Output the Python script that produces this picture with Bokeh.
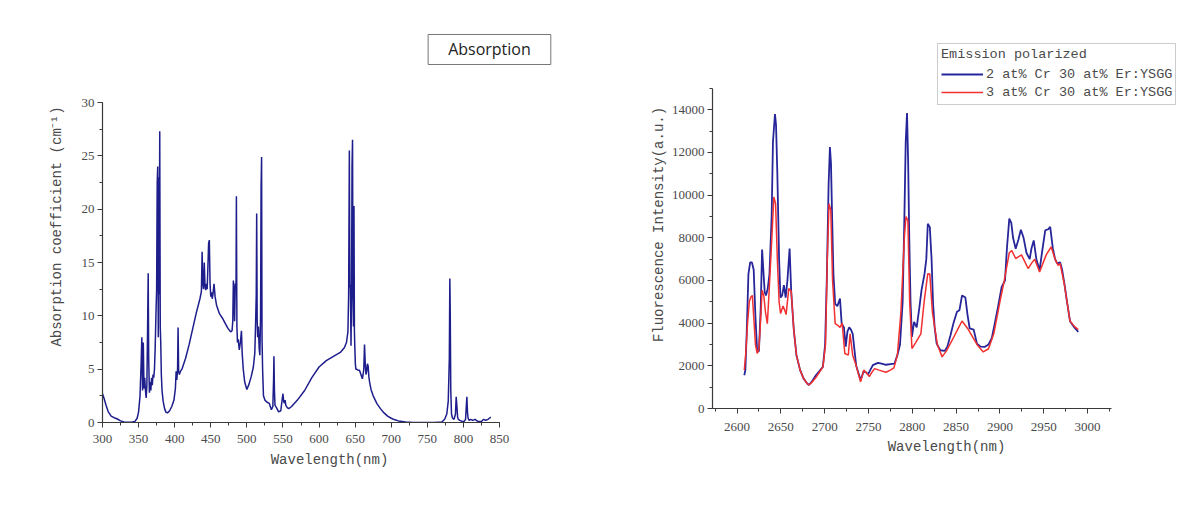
from bokeh.plotting import figure
from bokeh.layouts import row
from bokeh.models import Range1d, Label, Legend, LegendItem, SingleIntervalTicker
from bokeh.embed import file_html
from bokeh.resources import INLINE

# ---------------- data: absorption spectrum ----------------
abs_wavelength = [
    300, 302, 305, 308, 312, 316, 320, 325, 330, 335,
    340, 345, 348, 350, 352, 353.5, 354.5, 355.5, 356.5, 357.5,
    358.5, 359.5, 360.5, 361.5, 362.5, 363.3, 364, 365, 366, 367,
    368, 369, 370, 371, 372, 373, 374, 375, 375.8, 376.5,
    377.3, 378, 378.6, 379.3, 380, 380.7, 381.5, 382.5, 384, 386,
    388, 390, 393, 396, 399, 401, 402, 403, 404, 404.7,
    405.5, 406.5, 408, 410, 415, 420, 425, 430, 435, 437,
    438, 439, 440, 441, 442, 443, 444, 445, 446, 447,
    448, 449, 450, 451, 452, 453, 454.5, 456, 458, 462,
    466, 470, 474, 477.5, 479.5, 480.5, 481.3, 482, 483, 484,
    485, 485.5, 486.2, 487, 488, 489.5, 491, 492.5, 493.5, 495,
    497, 500, 503, 506, 509, 511, 512, 513, 513.6, 514.3,
    515, 516, 517, 518, 519, 519.7, 520.4, 521, 521.8, 523,
    525, 528, 531, 534, 536, 537, 537.5, 538.2, 539, 541,
    544, 547, 549, 550, 551, 552, 553, 554, 556, 558,
    562, 570, 580, 590, 600, 610, 620, 630, 635, 638,
    640, 641, 642, 642.7, 643.5, 644.3, 645, 645.7, 646.4, 647,
    647.7, 648.4, 649, 649.6, 650.3, 651, 652, 654, 656, 658,
    660, 661, 662, 663, 664, 665, 666, 667, 668, 669,
    670, 672, 675, 680, 685, 690, 695, 700, 705, 710,
    720, 730, 740, 750, 760, 770, 774, 777, 779, 780.5,
    781.2, 781.8, 782.5, 783.5, 785, 787, 789, 790, 791, 792,
    793, 795, 798, 801, 803, 804, 804.8, 805.6, 806.5, 808,
    810, 813, 816, 820, 825, 828, 831, 834, 836, 838,
]
abs_coefficient = [
    2.7, 2.3, 1.6, 1.0, 0.6, 0.45, 0.35, 0.15, 0.05, 0.03,
    0.03, 0.1, 0.4, 1.0, 2.5, 5.5, 8.0, 3.0, 7.5, 3.2,
    4.2, 3.0, 2.3, 3.5, 9.0, 14.0, 6.0, 2.8, 3.8, 3.0,
    4.2, 3.5, 4.5, 4.2, 5.0, 7.0, 10.0, 12.5, 22.5, 24.0,
    8.0, 23.0, 12.0, 27.3, 9.0, 7.5, 4.5, 3.0, 2.0, 1.3,
    0.95, 0.9, 1.1, 1.5, 2.1, 3.2, 4.8, 4.0, 5.0, 8.9,
    4.8, 4.5, 4.8, 5.0, 6.0, 7.3, 8.8, 10.3, 11.6, 12.3,
    16.0, 13.0, 12.5, 15.0, 12.8, 12.4, 13.0, 12.5, 14.5, 16.8,
    17.1, 13.0, 11.8, 12.2, 11.6, 12.0, 13.0, 11.8, 11.0, 10.2,
    9.8, 9.3, 8.8, 8.5, 8.6, 9.5, 13.3, 12.5, 9.5, 13.0,
    13.0, 21.2, 9.0, 7.5, 7.8, 6.8, 7.5, 8.6, 6.5, 5.0,
    3.8, 3.1, 3.6, 4.3, 5.2, 6.5, 9.0, 12.0, 19.6, 9.5,
    8.0, 9.0, 7.0, 6.3, 10.0, 22.0, 24.9, 8.0, 5.0, 2.5,
    2.1, 1.9, 1.8, 1.2, 1.5, 4.0, 6.2, 3.0, 1.6, 1.4,
    1.0, 1.1, 2.2, 2.7, 2.0, 1.8, 2.1, 1.6, 1.4, 1.3,
    1.5, 2.1, 3.0, 4.2, 5.2, 5.8, 6.2, 6.6, 7.0, 7.5,
    8.5, 12.0, 25.5, 13.0, 12.5, 7.2, 12.0, 24.0, 26.5, 12.0,
    9.0, 20.3, 8.5, 7.0, 5.5, 5.0, 5.0, 4.9, 4.9, 4.5,
    4.1, 4.5, 5.0, 7.3, 5.5, 4.5, 4.8, 5.5, 5.3, 4.3,
    3.8, 3.1, 2.5, 1.8, 1.3, 0.9, 0.6, 0.4, 0.25, 0.15,
    0.05, 0.0, 0.0, 0.0, 0.0, 0.05, 0.3, 0.8, 2.0, 6.0,
    13.5, 10.0, 3.0, 0.8, 0.4, 0.3, 0.8, 2.4, 1.5, 0.5,
    0.3, 0.2, 0.1, 0.1, 0.3, 1.5, 2.4, 1.0, 0.4, 0.2,
    0.3, 0.2, 0.3, 0.1, 0.1, 0.3, 0.2, 0.3, 0.4, 0.5,
]

# ---------------- data: emission spectra ----------------
em2_wavelength = [
    2608.3, 2609.5, 2611, 2613, 2615, 2617, 2619, 2621, 2623, 2625,
    2627, 2628.6, 2630, 2631.6, 2633, 2635, 2637, 2639.5, 2641, 2643.3,
    2644.5, 2646, 2648, 2649.5, 2651.5, 2653.5, 2655.5, 2657.5, 2660, 2661.8,
    2664.8, 2667.8, 2672, 2676, 2680, 2682, 2686, 2690, 2694, 2698,
    2700.5, 2702.4, 2704.5, 2706, 2707.2, 2708.5, 2710, 2712, 2714.5, 2717.5,
    2719.4, 2722, 2724, 2726, 2728, 2730, 2732, 2736, 2741, 2744.6,
    2747, 2749.5, 2752, 2755, 2760.8, 2765, 2770, 2775, 2779.6, 2783,
    2786, 2789, 2791, 2792.5, 2794, 2795.3, 2796.6, 2798, 2799.6, 2802,
    2805, 2808, 2810.5, 2814, 2816, 2817.7, 2820, 2822, 2823.7, 2825.5,
    2827.8, 2832, 2837, 2840, 2843.6, 2847, 2851, 2853.8, 2856.8, 2860.6,
    2863, 2865.5, 2870, 2873.8, 2878, 2883, 2887, 2890.7, 2894.5, 2898,
    2902, 2905.8, 2908, 2910.7, 2913, 2915, 2918, 2921, 2923.9, 2927,
    2930.3, 2934, 2936, 2938.6, 2941.6, 2945.3, 2948, 2951.7, 2955, 2957.4,
    2960.4, 2963, 2965.3, 2968.7, 2971, 2973.6, 2976.6, 2980, 2985, 2989.4,
]
em2_intensity = [
    1560, 1800, 3500, 6300, 6850, 6850, 6500, 4300, 2650, 2700,
    4700, 7450, 6500, 5450, 5300, 5600, 6300, 9000, 12500, 13800,
    13300, 11000, 7000, 5200, 5300, 5780, 5200, 6000, 7500, 5500,
    3670, 2500, 1800, 1400, 1170, 1100, 1300, 1560, 1750, 1950,
    3000, 6000, 10500, 12250, 11500, 9000, 6300, 4900, 4800, 5150,
    3980, 3800, 2900, 3600, 3800, 3700, 3500, 2000, 1330, 1750,
    1700, 1600, 1800, 2030, 2140, 2100, 2050, 2080, 2100, 2500,
    3000, 5000, 9000, 12500, 13850, 11500, 7880, 5000, 3360, 4060,
    3800, 4700, 5540, 6320, 7000, 8660, 8500, 7000, 4920, 3800,
    3040, 2730, 2700, 2900, 3430, 4000, 4530, 4600, 5300, 5200,
    4400, 3750, 3700, 3040, 2900, 2890, 3000, 3300, 4060, 4800,
    5700, 6000, 7500, 8900, 8700, 8000, 7490, 7900, 8380, 8000,
    7300, 7000, 7500, 7880, 7000, 6480, 7300, 8350, 8400, 8510,
    7500, 7000, 6800, 6850, 6500, 5850, 5000, 4090, 3800, 3590,
]
em3_wavelength = [
    2608.3, 2610, 2612, 2614, 2615.8, 2617.5, 2619.5, 2621, 2623, 2625,
    2627, 2628.6, 2630.5, 2632.5, 2634.6, 2636.5, 2639.5, 2642, 2644, 2646,
    2648, 2649.7, 2652.5, 2654.5, 2656, 2659, 2661.8, 2664.8, 2667.8, 2672,
    2676, 2680, 2682, 2686, 2690, 2694, 2698, 2701, 2703, 2705,
    2707, 2709, 2712, 2715, 2717.5, 2720, 2723, 2727, 2729, 2732,
    2736, 2741, 2744.6, 2747, 2751, 2754, 2757, 2762, 2770, 2775,
    2779, 2783, 2787, 2791, 2792.8, 2795, 2797, 2799.6, 2804, 2809.8,
    2813.5, 2817.7, 2820, 2823, 2828.6, 2834, 2839, 2845.5, 2853, 2856.8,
    2864, 2873.8, 2881, 2887, 2893, 2900, 2905, 2910.7, 2913.5, 2918,
    2924.6, 2932.2, 2936, 2939.7, 2945.3, 2952.8, 2958.5, 2963, 2966.5, 2968.7,
    2973.6, 2976.6, 2980, 2985, 2989.4,
]
em3_intensity = [
    1800, 2600, 4000, 5000, 5230, 5300, 4000, 3000, 2580, 2800,
    4200, 5540, 5300, 4500, 3980, 5400, 7800, 9910, 9600, 7000,
    5000, 4450, 4800, 4600, 4400, 5620, 5500, 3670, 2500, 1800,
    1400, 1170, 1100, 1250, 1450, 1700, 1950, 3000, 7000, 9600,
    9300, 6000, 3980, 3900, 3800, 4000, 2580, 2500, 3500, 2500,
    2000, 1250, 1800, 1700, 1500, 1700, 1870, 1800, 1700, 1800,
    1900, 2500, 4500, 8040, 9000, 8800, 5000, 2810, 3100, 3500,
    5000, 6320, 6300, 4500, 3000, 2420, 2700, 3200, 3800, 4100,
    3700, 3000, 2650, 2800, 3500, 5000, 6000, 7300, 7400, 7030,
    7200, 6560, 6800, 7000, 6400, 7200, 7570, 7000, 6700, 6800,
    5800, 5000, 4100, 3850, 3700,
]

series_labels = ["2 at% Cr 30 at% Er:YSGG", "3 at% Cr 30 at% Er:YSGG"]
legend_title = "Emission polarized"
panel_title = "Absorption"

# axis extents (data units)
abs_x_axis = (300, 850)
abs_y_axis = (0, 30)
em_x_axis = (2572, 3027)
em_y_axis = (0, 15000)

# ---------------- styling helpers ----------------
AXIS_COLOR = "#3a3a3a"
TEXT_COLOR = "#4a4a4a"


def style_axis(ax, tick_standoff, label_standoff, bounds):
    ax.bounds = bounds
    ax.axis_line_color = AXIS_COLOR
    ax.axis_line_width = 1.2
    ax.major_tick_line_color = AXIS_COLOR
    ax.minor_tick_line_color = AXIS_COLOR
    ax.major_tick_out = 5
    ax.major_tick_in = 0
    ax.minor_tick_out = 3
    ax.minor_tick_in = 0
    ax.major_label_text_font = "Liberation Serif"
    ax.major_label_text_font_size = "13px"
    ax.major_label_text_color = TEXT_COLOR
    ax.major_label_standoff = tick_standoff
    ax.axis_label_text_font = "Liberation Mono"
    ax.axis_label_text_font_size = "14px"
    ax.axis_label_text_font_style = "normal"
    ax.axis_label_text_color = TEXT_COLOR
    ax.axis_label_standoff = label_standoff


def base_fig(width, x_range, y_range, borders):
    left, right, top, bottom = borders
    p = figure(width=width, height=498, x_range=x_range, y_range=y_range,
               output_backend="svg", toolbar_location=None,
               min_border_left=left, min_border_right=right,
               min_border_top=top, min_border_bottom=bottom)
    p.frame_align = False
    p.outline_line_color = None
    p.xgrid.visible = False
    p.ygrid.visible = False
    p.background_fill_color = "white"
    p.border_fill_color = "white"
    return p


# ---------------- left: absorption ----------------
# frame spans 454 x 392 px; the axes (bounds) cover 397 x 320 px of it
p1 = base_fig(598, Range1d(300, 300 + 454 * 550 / 397), Range1d(0, 392 * 30 / 320),
              (102, 42, 30, 76))
p1.xaxis.ticker = SingleIntervalTicker(interval=50, num_minor_ticks=2)
p1.yaxis.ticker = SingleIntervalTicker(interval=5, num_minor_ticks=2)
p1.xaxis.axis_label = "Wavelength(nm)"
p1.yaxis.axis_label = "Absorption coefficient (cm\u207b\u00b9)"
style_axis(p1.xaxis[0], 7, 6, abs_x_axis)
style_axis(p1.yaxis[0], 3, 14, abs_y_axis)
p1.line(abs_wavelength, abs_coefficient, line_color="#1d1d8c", line_width=1.5)

p1.add_layout(Label(x=836.1, y=34.97, text=panel_title, text_align="center",
                    text_baseline="middle", text_font="Open Sans",
                    text_font_size="16px", text_color="#222222",
                    border_line_color="#777777", border_line_width=1,
                    background_fill_color="white", padding=(20, 4)))

# ---------------- right: emission ----------------
px_per_nm = (1087 - 736.5) / 400
px_per_unit = (408 - 109.3) / 14000
p2 = base_fig(586, Range1d(2572, 2572 + 468 / px_per_nm), Range1d(0, 368 / px_per_unit),
              (114, 4, 40, 90))
p2.xaxis.ticker = SingleIntervalTicker(interval=50, num_minor_ticks=2)
p2.yaxis.ticker = SingleIntervalTicker(interval=2000, num_minor_ticks=2)
p2.xaxis.axis_label = "Wavelength(nm)"
p2.yaxis.axis_label = "Fluorescence Intensity(a.u.)"
style_axis(p2.xaxis[0], 9, 5, em_x_axis)
style_axis(p2.yaxis[0], 3, 2, em_y_axis)

r_blue = p2.line(em2_wavelength, em2_intensity, line_color="#26269a", line_width=1.8)
r_red = p2.line(em3_wavelength, em3_intensity, line_color="#f23030", line_width=1.5)

legend = Legend(items=[LegendItem(label=series_labels[0], renderers=[r_blue]),
                       LegendItem(label=series_labels[1], renderers=[r_red])],
                title=legend_title, location=(225, 303))
legend.title_text_font = "Liberation Mono"
legend.title_text_font_size = "13.5px"
legend.title_text_font_style = "normal"
legend.title_text_color = TEXT_COLOR
legend.title_standoff = 3
legend.label_text_font = "Liberation Mono"
legend.label_text_font_size = "13.5px"
legend.label_text_color = TEXT_COLOR
legend.label_standoff = 3
legend.label_height = 18
legend.glyph_height = 18
legend.glyph_width = 42
legend.spacing = 0
legend.padding = 3
legend.margin = 0
legend.border_line_color = "#999999"
legend.border_line_width = 1
legend.background_fill_color = "white"
legend.background_fill_alpha = 1.0
p2.add_layout(legend)

layout = row(p1, p2)
open("out.html", "w").write(file_html(layout, INLINE))
